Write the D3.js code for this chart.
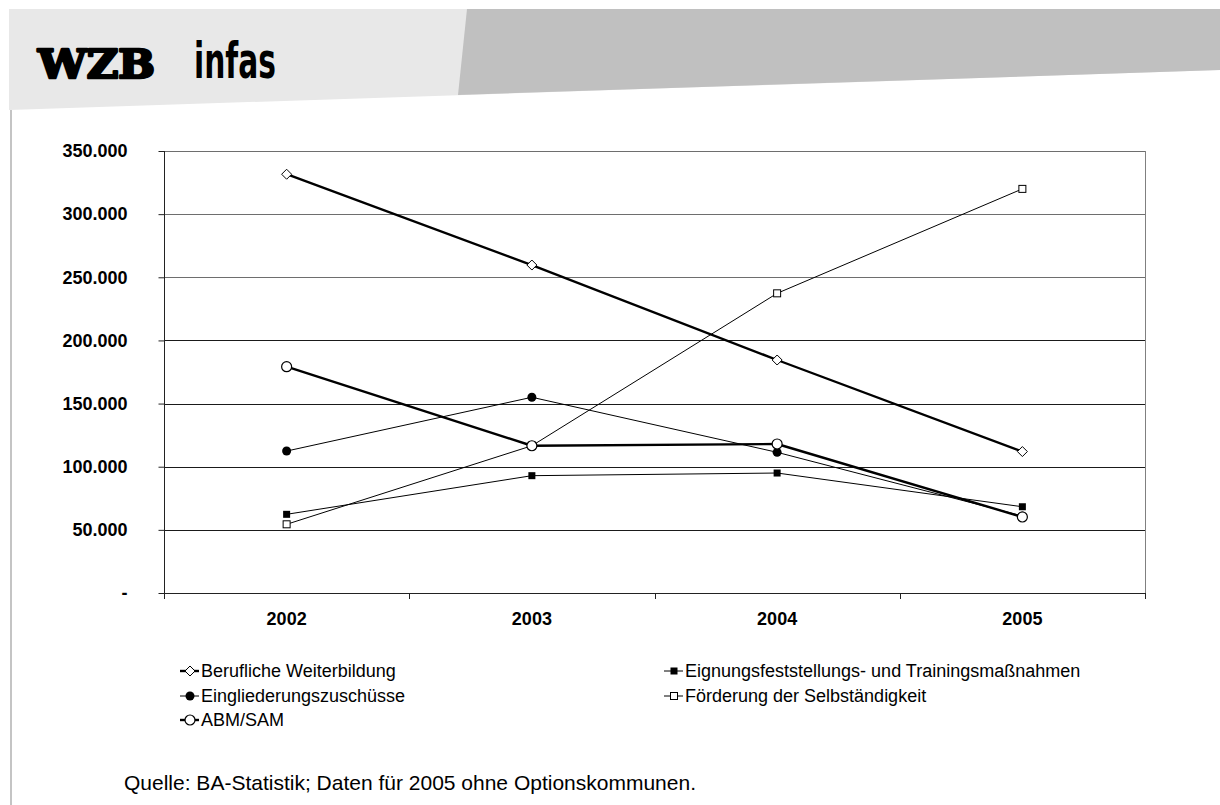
<!DOCTYPE html>
<html>
<head>
<meta charset="utf-8">
<script src="https://cdn.jsdelivr.net/npm/d3@7"></script>
<style>
  html, body { margin: 0; padding: 0; background: #fff; }
  svg { display: block; }
  text { font-family: "Liberation Sans", Arial, sans-serif; fill: #000; }
</style>
</head>
<body>
<svg id="chart" width="1220" height="805"></svg>
<script>
// Jahre und Teilnehmerzahlen je Instrument
const years = ["2002", "2003", "2004", "2005"];
const berufliche = [331600, 259700, 184500, 112000];
const eignung = [62300, 92900, 95000, 68300];
const eingliederung = [112400, 155000, 111400, 61000];
const foerderung = [54400, 116600, 237300, 320000];
const abmSam = [179200, 116600, 118000, 60200];
const yTicks = [0, 50000, 100000, 150000, 200000, 250000, 300000, 350000];
const sourceNote = "Quelle: BA-Statistik; Daten für 2005 ohne Optionskommunen.";

const series = [
  { name: "Berufliche Weiterbildung", values: berufliche, marker: "diamond", width: 2.4 },
  { name: "Eignungsfeststellungs- und Trainingsmaßnahmen", values: eignung, marker: "squareFilled", width: 1 },
  { name: "Eingliederungszuschüsse", values: eingliederung, marker: "circleFilled", width: 1 },
  { name: "Förderung der Selbständigkeit", values: foerderung, marker: "squareOpen", width: 1 },
  { name: "ABM/SAM", values: abmSam, marker: "circleOpen", width: 2.4 }
];

const svg = d3.select("#chart");

// Kopfbereich mit Logos
svg.append("polygon")
  .attr("points", "9,9 1220,9 1220,70 9,110")
  .attr("fill", "#e8e8e8");
svg.append("polygon")
  .attr("points", "467,9 1220,9 1220,70 458,95")
  .attr("fill", "#c0c0c0");
svg.append("text")
  .attr("x", 38).attr("y", 78)
  .style("font-family", "'DejaVu Serif', serif")
  .style("font-weight", "bold")
  .style("font-size", "40px")
  .attr("stroke", "#000").attr("stroke-width", 2.6).attr("stroke-linejoin", "round")
  .attr("textLength", 117).attr("lengthAdjust", "spacingAndGlyphs")
  .text("WZB");
svg.append("text")
  .attr("x", 194).attr("y", 78)
  .style("font-family", "'Liberation Sans Narrow', 'DejaVu Sans Condensed', sans-serif")
  .style("font-weight", "bold")
  .style("font-size", "50px")
  .attr("textLength", 82).attr("lengthAdjust", "spacingAndGlyphs")
  .text("infas");

// linke Randlinie
svg.append("line")
  .attr("x1", 11).attr("x2", 11).attr("y1", 110).attr("y2", 805)
  .attr("stroke", "#c4c4c4").attr("stroke-width", 2);

// Skalen
const plot = { left: 164, right: 1145, top: 151, bottom: 593 };
const x = d3.scaleBand().domain(years).range([plot.left, plot.right]);
const y = d3.scaleLinear().domain([0, 350000]).range([plot.bottom, plot.top]);
const fmt = v => v === 0 ? "-" : d3.format(",")(v).replace(/,/g, ".");

// Gitternetz
svg.append("g")
  .selectAll("line")
  .data(yTicks.filter(t => t > 0))
  .join("line")
  .attr("x1", plot.left).attr("x2", plot.right)
  .attr("y1", d => Math.round(y(d)) + 0.5).attr("y2", d => Math.round(y(d)) + 0.5)
  .attr("stroke", d => d >= 250000 ? "#6e6e6e" : "#1a1a1a")
  .attr("stroke-width", 1);

// rechter Rahmen
svg.append("line")
  .attr("x1", plot.right + 0.5).attr("x2", plot.right + 0.5)
  .attr("y1", plot.top).attr("y2", plot.bottom)
  .attr("stroke", "#808080");

// y-Achse
const yAxis = svg.append("g")
  .attr("transform", `translate(${plot.left + 0.5},0)`)
  .call(d3.axisLeft(y).tickValues(yTicks).tickFormat(fmt).tickSize(6).tickPadding(31));
yAxis.select(".domain").attr("stroke", "#222").attr("d", `M0,${plot.top}V${plot.bottom + 6}`);
yAxis.selectAll(".tick line").attr("stroke", "#222");
yAxis.selectAll(".tick text")
  .style("font-size", "18px").style("font-weight", "bold")
  .style("font-family", "'Liberation Sans', Arial, sans-serif");

// x-Achse
const xAxis = svg.append("g")
  .attr("transform", `translate(0,${plot.bottom + 0.5})`)
  .call(d3.axisBottom(x).tickSize(0).tickPadding(19));
xAxis.select(".domain").attr("stroke", "#222").attr("d", `M${plot.left},0H${plot.right + 1}`);
xAxis.selectAll(".tick text")
  .style("font-size", "18px").style("font-weight", "bold")
  .style("font-family", "'Liberation Sans', Arial, sans-serif");
// Teilstriche an den Kategoriegrenzen
svg.append("g")
  .selectAll("line")
  .data(years.map(d => x(d)).concat([plot.right]))
  .join("line")
  .attr("x1", d => Math.round(d) + 0.5).attr("x2", d => Math.round(d) + 0.5)
  .attr("y1", plot.bottom).attr("y2", plot.bottom + 6)
  .attr("stroke", "#222");

// Markierungen
function drawMarker(g, type, cx, cy) {
  if (type === "diamond") {
    g.append("path")
      .attr("d", `M${cx},${cy - 5}L${cx + 5},${cy}L${cx},${cy + 5}L${cx - 5},${cy}Z`)
      .attr("fill", "#fff").attr("stroke", "#000").attr("stroke-width", 1);
  } else if (type === "squareFilled") {
    g.append("rect").attr("x", cx - 3.5).attr("y", cy - 3.5).attr("width", 7).attr("height", 7)
      .attr("fill", "#000");
  } else if (type === "squareOpen") {
    g.append("rect").attr("x", cx - 3.5).attr("y", cy - 3.5).attr("width", 7).attr("height", 7)
      .attr("fill", "#fff").attr("stroke", "#000").attr("stroke-width", 1);
  } else if (type === "circleFilled") {
    g.append("circle").attr("cx", cx).attr("cy", cy).attr("r", 4.5).attr("fill", "#000");
  } else if (type === "circleOpen") {
    g.append("circle").attr("cx", cx).attr("cy", cy).attr("r", 5)
      .attr("fill", "#fff").attr("stroke", "#000").attr("stroke-width", 1.2);
  }
}

const line = d3.line()
  .x((d, i) => x(years[i]) + x.bandwidth() / 2)
  .y(d => y(d));

const linesG = svg.append("g");
series.forEach(s => {
  linesG.append("path")
    .attr("d", line(s.values))
    .attr("fill", "none")
    .attr("stroke", "#000")
    .attr("stroke-width", s.width)
    .attr("stroke-linejoin", "round");
});
const markersG = svg.append("g");
series.forEach(s => {
  s.values.forEach((v, i) => {
    drawMarker(markersG, s.marker, x(years[i]) + x.bandwidth() / 2, y(v));
  });
});

// Legende
const legendPos = [
  { x: 180, y: 671 }, { x: 664, y: 671 },
  { x: 180, y: 696 }, { x: 664, y: 696 },
  { x: 180, y: 720 }
];
const legend = svg.append("g");
series.forEach((s, i) => {
  const p = legendPos[i];
  const g = legend.append("g");
  g.append("line")
    .attr("x1", p.x).attr("x2", p.x + 19)
    .attr("y1", p.y).attr("y2", p.y)
    .attr("stroke", "#000").attr("stroke-width", s.width);
  drawMarker(g, s.marker, p.x + 10, p.y);
  g.append("text")
    .attr("x", p.x + 21).attr("y", p.y + 6)
    .style("font-size", "18px")
    .text(s.name);
});

// Quellenangabe
svg.append("text")
  .attr("x", 124).attr("y", 790)
  .style("font-size", "21px")
  .text(sourceNote);
</script>
</body>
</html>
